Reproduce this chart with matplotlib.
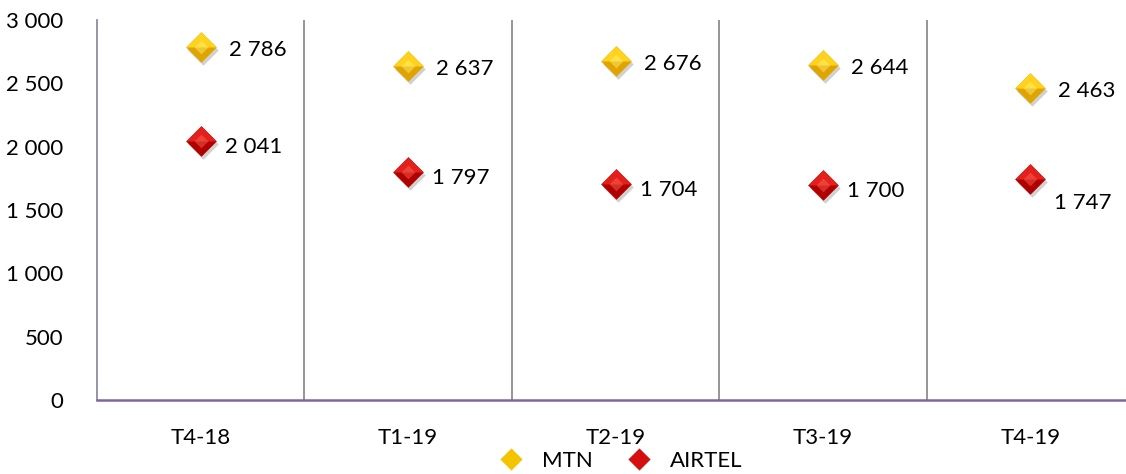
import matplotlib
matplotlib.use("Agg")
import matplotlib.pyplot as plt
from matplotlib.path import Path
from matplotlib.lines import Line2D

categories = ["T4-18", "T1-19", "T2-19", "T3-19", "T4-19"]
mtn = [2786, 2637, 2676, 2644, 2463]
airtel = [2041, 1797, 1704, 1700, 1747]
yticks = [0, 500, 1000, 1500, 2000, 2500, 3000]
ytick_labels = ["0", "500", "1 000", "1 500", "2 000", "2 500", "3 000"]

plt.rcParams['font.family'] = ['Lato', 'DejaVu Sans']

def fmt(v):
    return f"{v:,}".replace(",", " ")

diamond = Path([(-1, 0), (0, 1), (1, 0), (0, -1), (-1, 0)],
               [Path.MOVETO, Path.LINETO, Path.LINETO, Path.LINETO, Path.CLOSEPOLY])
top_tri = Path([(-1, 0), (0, 1), (1, 0), (-1, 0), (0, -1)],
               [Path.MOVETO, Path.LINETO, Path.LINETO, Path.LINETO, Path.MOVETO])

MS = 22
FS = 16

def draw_markers(ax, x, y, base, light, mid):
    ax.plot(x, y, ls='none', marker=diamond, ms=MS, mfc=(0, 0, 0, 0.18), mec='none',
            transform=ax.transData + matplotlib.transforms.ScaledTranslation(2/100, -3/100, ax.figure.dpi_scale_trans),
            zorder=3, clip_on=False)
    ax.plot(x, y, ls='none', marker=diamond, ms=MS, mfc=base, mec='none', zorder=4, clip_on=False)
    ax.plot(x, y, ls='none', marker=top_tri, ms=MS, mfc=mid, mec='none', zorder=5, clip_on=False)
    ax.plot(x, y, ls='none', marker=diamond, ms=MS * 0.45, mfc=light, mec='none', alpha=0.45, zorder=6, clip_on=False)

fig = plt.figure(figsize=(11.26, 4.74), dpi=100)
ax = fig.add_axes([97/1126, 74/474, 1037/1126, 380/474])
ax.set_xlim(-0.5, len(categories) - 0.5)
ax.set_ylim(0, 3000)

for i in range(1, len(categories)):
    ax.axvline(i - 0.5, color='#8c8c8c', lw=1.3, zorder=1)

x = list(range(len(categories)))
draw_markers(ax, x, mtn, '#e0a400', '#fff27a', '#ffd21e')
draw_markers(ax, x, airtel, '#b00000', '#ff6a5a', '#e3211c')

for i, v in enumerate(mtn):
    ax.annotate(fmt(v), (i, v), xytext=(28, -3), textcoords='offset pixels',
                ha='left', va='center', fontsize=FS, color='black', zorder=7)
for i, v in enumerate(airtel):
    if i < 4:
        off = (24, -6)
    else:
        off = (24, -24)
    ax.annotate(fmt(v), (i, v), xytext=off, textcoords='offset pixels',
                ha='left', va='center', fontsize=FS, color='black', zorder=7)

ax.set_xticks(x)
ax.set_xticklabels(categories, fontsize=FS)
ax.set_yticks(yticks)
ax.set_yticklabels(ytick_labels, fontsize=FS)
ax.tick_params(axis='both', length=0)
ax.tick_params(axis='x', pad=20)
ax.tick_params(axis='y', pad=24)
for s in ['top', 'right']:
    ax.spines[s].set_visible(False)
ax.spines['left'].set_color('#8c8c9c')
ax.spines['left'].set_linewidth(1.3)
ax.spines['bottom'].set_color('#8064a2')
ax.spines['bottom'].set_linewidth(1.8)

h1 = Line2D([], [], ls='none', marker=diamond, ms=16, mfc='#f5c400', mec='none')
h2 = Line2D([], [], ls='none', marker=diamond, ms=16, mfc='#d40f0f', mec='none')
fig.legend([h1, h2], ["MTN", "AIRTEL"], loc='center', bbox_to_anchor=(620/1126, 1 - 461/474),
           ncol=2, frameon=False, fontsize=FS, handletextpad=0.8, columnspacing=1.5,
           handlelength=1.2, borderaxespad=0)

fig.savefig("out.png", dpi=100)
